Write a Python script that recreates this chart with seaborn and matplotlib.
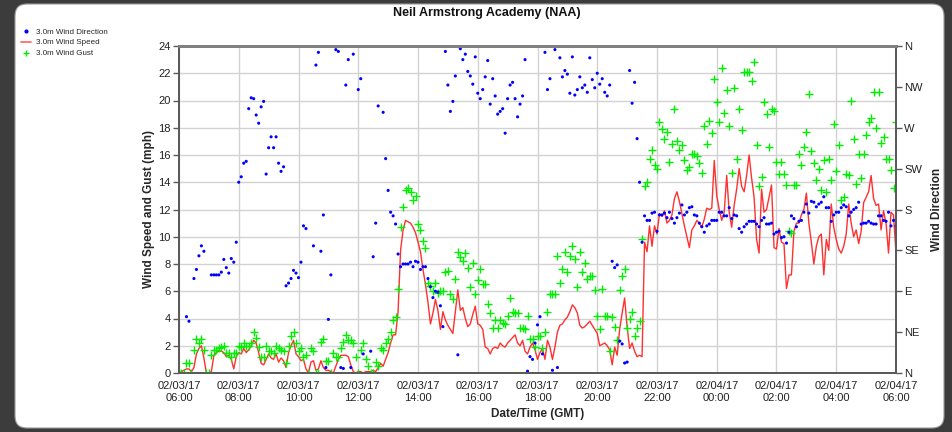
import numpy as np
import pandas as pd
import matplotlib
matplotlib.use("Agg")
import matplotlib.pyplot as plt
import matplotlib.dates as mdates
from matplotlib.lines import Line2D
from matplotlib.patches import FancyBboxPatch
from matplotlib.transforms import IdentityTransform
import seaborn as sns

nan = np.nan

# 5 minute readings, 02/03/17 06:00 -> 02/04/17 06:00 GMT (one row = one hour)
wind_speed = [
    0, 0.1, 0.2, 0.3, 0.3, 0.1, 0.4, 1.4, 1.8, 2.0, 1.1, 0.0,
    0, 0.1, 1.3, 1.5, 1.6, 1.6, 1.5, 1.2, 1.3, 1.0, 0.3, 1.2,
    1.5, 1.4, 1.8, 1.5, 1.7, 2.0, 2.4, 2.2, 1.5, 0.7, 0.6, 1.0,
    1.4, 1.1, 1.0, 1.4, 0.8, 1.1, 0.9, 0.4, 1.5, 2.0, 2.4, 1.4,
    1.2, 0.9, 1.0, 0.3, 0.0, 0.8, 0.9, 0.2, 0.3, 0.9, 0.4, 0.2,
    0.2, 0.1, 0.0, 0.5, 1.0, 1.3, 1.3, 1.3, 1.2, 0.6, 0.1, 0.0,
    0.1, 0.1, 0.0, 0.1, 0.1, 0.1, 0.2, 0.1, 0.4, 0.7, 0.5, 1.0,
    1.5, 2.2, 2.8, 2.8, 4.5, 9.0, 10.5, 11.2, 11.1, 11.0, 10.7, 10.3,
    9.6, 8.9, 7.6, 6.5, 5.2, 3.6, 4.4, 5.4, 4.6, 3.2, 4.5, 3.9,
    3.5, 3.2, 2.9, 4.5, 6.1, 4.6, 4.8, 4.0, 3.4, 3.6, 4.3, 4.9,
    3.6, 3.5, 3.2, 1.9, 1.8, 1.4, 1.8, 1.9, 1.8, 2.2, 2.0, 1.9,
    2.2, 2.4, 2.6, 2.8, 2.2, 2.0, 2.4, 1.6, 1.4, 1.9, 2.2, 1.7,
    1.0, 1.5, 1.8, 1.0, 2.4, 1.9, 1.0, 1.9, 3.0, 3.5, 3.6, 3.9,
    4.1, 4.5, 5.0, 4.8, 4.4, 3.5, 3.3, 3.4, 3.6, 3.8, 3.5, 3.2,
    2.9, 2.0, 2.1, 2.2, 2.0, 1.7, 0.6, 1.9, 1.3, 3.2, 4.4, 5.5,
    3.4, 1.8, 2.2, 1.6, 1.2, 1.3, 1.2, 9.6, 8.9, 10.8, 9.3, 10.8,
    10.2, 11.7, 11.5, 11.9, 11.0, 11.2, 11.6, 12.8, 13.3, 12.6, 11.7, 10.8,
    10.0, 9.2, 10.5, 10.8, 11.2, 11.0, 10.7, 11.3, 12.1, 12.0, 12.1, 15.6,
    13.0, 12.0, 11.2, 11.8, 14.5, 11.8, 10.7, 12.3, 13.5, 15.0, 13.7, 13.3,
    14.5, 16.0, 14.3, 12.9, 9.8, 8.8, 13.5, 11.8, 12.0, 12.9, 13.8, 9.2,
    9.1, 10.6, 9.6, 9.5, 6.2, 7.2, 7.2, 10.4, 11.0, 11.0, 11.6, 12.0,
    13.2, 11.0, 9.6, 8.0, 9.3, 10.0, 10.2, 7.2, 9.8, 9.0, 12.4, 10.7,
    9.8, 9.1, 8.8, 9.3, 10.2, 12.4, 11.0, 10.0, 10.5, 9.5, 10.4, 12.5,
    12.9, 13.3, 14.5, 12.8, 12.3, 12.4, 10.5, 11.9, 11.0, 8.8, 11.8, 11.6,
    8.8,
]

wind_gust = [
    0, 0, 0, 0.7, 0.7, 0, 1.7, 2.5, 2.2, 2.5, 1.7, 0,
    0, 1.3, 1.7, 1.7, 1.8, 1.9, 2.0, 1.5, 1.5, 1.2, 1.5, 1.5,
    2.0, 1.9, 2.2, 2.0, 2.0, 2.2, 3.0, 2.6, 1.9, 1.2, 1.2, 2.0,
    1.6, 1.6, 1.5, 2.0, 1.8, 1.7, 1.6, 0.7, 2.0, 2.7, 3.0, 2.2,
    1.6, 1.8, 1.2, 1.3, 0, 1.8, 1.6, 0, 0, 2.3, 2.5, 0.9,
    0.9, 0, 1.5, 1.2, 1.2, 1.8, 2.3, 2.8, 2.4, 2.4, 2.2, 1.2,
    0, 1.7, 2.2, 1.0, 0.5, 0, 0, 0.8, 0.5, 1.8, 1.7, 2.2,
    2.5, 3.0, 3.9, 4.1, 6.2, 10.7, 12.2, 13.4, 13.6, 13.3, 12.7, 13.0,
    10.9, 10.5, 9.7, 9.2, 6.6, 6.4, 6.0, 6.6, 5.9, 6.0, 6.0, 7.4,
    7.5, 5.8, 5.4, 6.9, 8.9, 8.5, 8.2, 8.8, 7.7, 6.3, 8.1, 5.8,
    6.8, 7.6, 6.5, 6.5, 5.1, 4.4, 3.3, 3.9, 3.3, 3.9, 3.7, 3.6,
    4.2, 5.5, 4.5, 4.4, 4.4, 3.3, 3.3, 3.2, 4.2, 2.5, 2.5, 1.9,
    2.7, 2.7, 1.8, 3.0, 4.5, 5.8, 5.8, 5.8, 8.6, 6.6, 7.6, 8.9,
    7.4, 8.6, 9.3, 8.4, 6.3, 8.9, 7.4, 8.1, 6.9, 7.1, 7.1, 6.1,
    4.2, 3.2, 6.2, 4.2, 4.2, 1.6, 4.1, 3.4, 2.4, 6.1, 7.1, 7.6,
    3.3, 4.0, 4.5, 2.7, 3.3, 3.8, 9.8, 13.7, 14.0, 15.7, 16.4, 15.3,
    15.0, 18.4, 17.9, 17.2, 17.7, 15.5, 16.8, 19.4, 17.0, 16.4, 16.7, 15.6,
    14.9, 15.1, 16.1, 16.1, 15.9, 15.4, 14.7, 18.1, 16.8, 18.5, 17.6, 21.6,
    19.9, 18.4, 22.4, 19.1, 20.8, 18.1, 14.7, 20.9, 15.7, 19.4, 17.8, 22.1,
    22.1, 22.1, 21.4, 22.8, 16.7, 13.7, 14.4, 19.9, 19.0, 16.6, 19.4, 19.2,
    15.5, 14.6, 15.5, 14.6, 13.8, 10.4, 10.3, 13.8, 13.8, 16.1, 15.3, 16.6,
    17.7, 20.5, 16.3, 15.4, 14.2, 15.0, 13.4, 15.6, 13.3, 15.7, 14.2, 18.3,
    14.8, 16.7, 12.7, 12.9, 14.6, 14.5, 20.0, 17.2, 13.9, 16.1, 14.3, 16.1,
    17.5, 18.4, 18.7, 20.6, 18.0, 20.6, 16.9, 17.3, 15.7, 15.7, 14.9, 13.6,
    18.4,
]

# degrees from north, nan = calm / no reading
wind_dir = [
    nan, nan, nan, 62, 57, nan, 104, 114, 129, 140, 134, nan,
    nan, 108, 108, 108, 108, 111, 125, 116, 110, 126, 122, 144,
    210, 216, 231, 233, 291, 303, 302, 284, 275, 293, 299, 219,
    248, 260, 248, 260, 231, 222, 227, 96, 99, 104, 113, 110,
    105, 122, 162, 159, nan, nan, 140, 339, 353, 134, 174, 6,
    59, 108, nan, 356, 354, 6, 5, 317, 345, 6, 351, nan,
    312, 324, 21, nan, nan, 24, 128, 165, 294, nan, 287, 236,
    201, 177, 173, 164, 131, 117, 120, 120, 120, 122, 117, 123,
    122, 114, 117, 117, 104, 95, 83, 90, 89, 74, 51, 354,
    317, 288, 299, 327, 20, 357, 345, 351, 332, 327, 318, 348,
    308, 302, 312, 326, 344, 296, 324, 305, 285, 288, 291, 264,
    302, 317, 320, 302, 282, 296, 305, 345, 2, 18, 15, 33,
    53, 62, 21, 353, 312, 324, 3, 356, 6, 347, 326, 333,
    329, 308, 348, 306, 312, 326, 314, 317, 309, 347, 323, 314,
    330, 318, 324, 309, 305, 317, 123, 116, 119, 35, 32, 11,
    12, 333, 297, 320, 258, 210, 144, 173, 168, 168, 176, 177,
    156, 174, 174, 176, 171, 177, 170, 165, 171, 176, 185, 174,
    177, 182, 183, 174, 173, 165, 161, 155, 162, 164, 168, 168,
    168, 177, 177, 173, 173, 182, 170, 174, 173, 159, 155, 161,
    164, 167, 167, 167, 164, 161, 168, 171, 164, 164, 165, 153,
    155, 156, 149, 150, 143, 155, 173, 170, 161, 167, 168, 177,
    186, 176, 189, 188, 183, 186, 188, 194, 182, 182, 167, 174,
    177, 177, 182, 185, 183, 173, 177, 180, 182, 188, 164, 165,
    165, 167, 165, 164, 164, 173, 173, 168, 167, 177, 162, 168,
    162,
]

compass_labels = ["N", "NE", "E", "SE", "S", "SW", "W", "NW", "N"]

times = pd.date_range("2017-02-03 06:00", "2017-02-04 06:00", freq="5min")
df = pd.DataFrame({"time": times, "speed": wind_speed,
                   "gust": wind_gust, "direction": wind_dir})

sns.set_style("white")
plt.rcParams["font.family"] = ["Liberation Sans", "DejaVu Sans"]

W, H = 953, 432
fig = plt.figure(figsize=(W / 100, H / 100), dpi=100)
fig.patch.set_facecolor("#3c3c3c")
# white rounded panel behind the chart
panel = FancyBboxPatch((15, 4), 929, 424, boxstyle="round,pad=0,rounding_size=12",
                       transform=IdentityTransform(), facecolor="white",
                       edgecolor="#9a9a9a", lw=0.8, zorder=-10)
fig.patches.append(panel)

ax = fig.add_axes([179 / W, 1 - 373 / H, 717 / W, 327 / H])
ax.set_facecolor("white")

# speed line + gust crosses on the mph axis
sns.lineplot(data=df, x="time", y="speed", ax=ax, color="#ff3030", lw=1.0)
sns.scatterplot(data=df, x="time", y="gust", ax=ax, marker="+",
                color="#00ee00", s=30, linewidth=1.0, zorder=3)

ax.set_ylim(0, 24)
ax.set_yticks(range(0, 25, 2))
ax.set_xlim(times[0], times[-1])
ax.xaxis.set_major_locator(mdates.HourLocator(byhour=range(0, 24, 2)))
ax.xaxis.set_major_formatter(mdates.DateFormatter("%m/%d/%y\n%H:%M"))
ax.grid(True, color="#d2d2d2", lw=1.0)
ax.set_axisbelow(True)

# direction dots on the compass axis
ax2 = ax.twinx()
sns.scatterplot(data=df, x="time", y="direction", ax=ax2, color="#0000ff",
                s=5, edgecolor="none")
ax2.set_ylim(0, 360)
ax2.set_yticks(range(0, 361, 45))
ax2.set_yticklabels(compass_labels)
ax2.set_xlim(times[0], times[-1])

for a in (ax, ax2):
    for side in ("left", "right", "bottom"):
        a.spines[side].set_color("#5a5a5a")
        a.spines[side].set_linewidth(1.3)
    a.spines["top"].set_color("#808080")
    a.spines["top"].set_linewidth(2.0)
    a.tick_params(direction="out", length=4, width=1, color="#5a5a5a",
                  labelsize=8, labelcolor="#222222", pad=2)

ax.set_ylabel("Wind Speed and Gust (mph)", fontsize=8.5, fontweight="bold", labelpad=2)
ax2.set_ylabel("Wind Direction", fontsize=8.5, fontweight="bold", labelpad=6)
ax.set_xlabel("Date/Time (GMT)", fontsize=8.5, fontweight="bold", labelpad=4)

fig.text(487 / W, 1 - 13 / H, "Neil Armstrong Academy (NAA)", ha="center",
         va="center", fontsize=9, fontweight="bold", color="#111111")

handles = [
    Line2D([], [], marker="o", ls="none", color="#0000ff", markersize=2),
    Line2D([], [], color="#ff6060", lw=1.2),
    Line2D([], [], marker="+", ls="none", color="#00ee00", markersize=4, mew=1),
]
labels = ["3.0m Wind Direction", "3.0m Wind Speed", "3.0m Wind Gust"]
fig.legend(handles, labels, loc="upper left", bbox_to_anchor=(21 / W, 1 - 28 / H),
           frameon=False, fontsize=5.8, handlelength=1.2, handletextpad=0.6,
           labelspacing=0.4, borderaxespad=0, borderpad=0)

fig.savefig("out.png", dpi=100, facecolor=fig.get_facecolor())
